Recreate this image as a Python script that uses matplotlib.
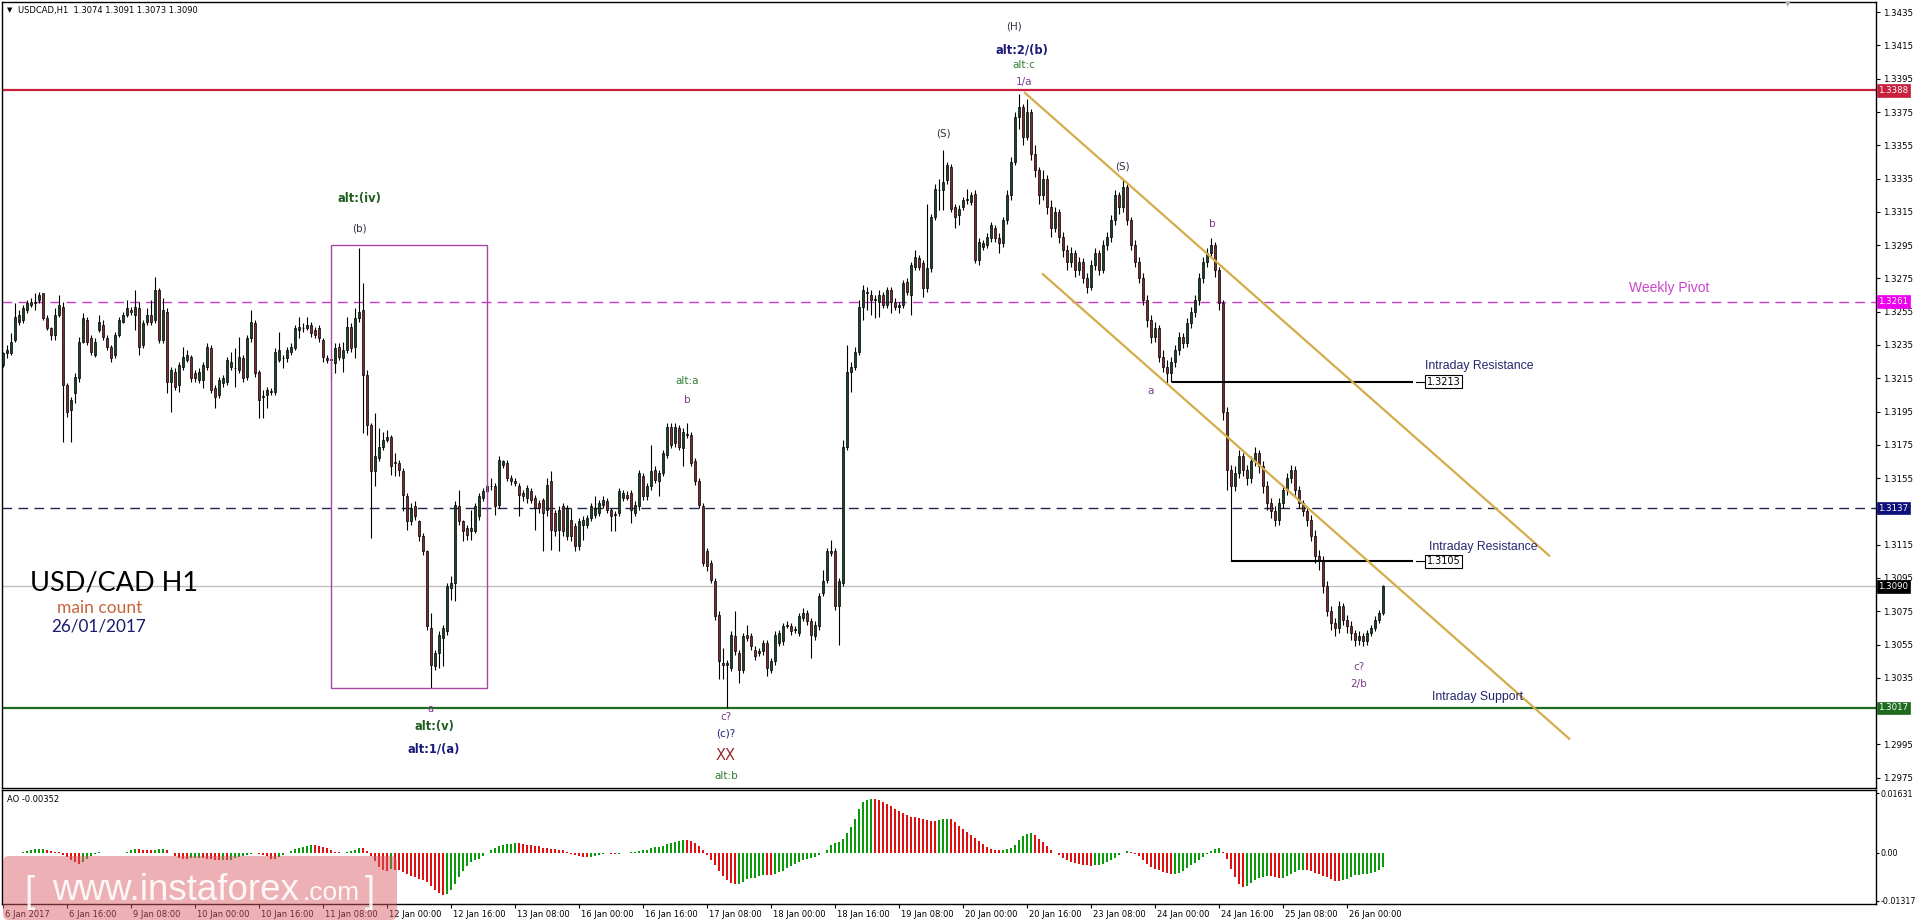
import numpy as np
import pandas as pd
import matplotlib
matplotlib.use("Agg")
import matplotlib.pyplot as plt
import matplotlib.transforms as mtransforms
from matplotlib.patches import Rectangle, FancyBboxPatch

plt.rcParams['font.family'] = 'DejaVu Sans'
plt.rcParams['lines.scale_dashes'] = False

W, H = 1916, 924

# ---- USDCAD H1 candles, pips above 1.0000 (3223 -> 1.3223), one row per ~day ----
opens = [
    3223, 3230, 3230, 3238, 3249, 3250, 3256, 3259, 3261, 3262, 3266, 3251, 3245, 3241, 3253, 3258, 3211, 3196, 3206, 3215, 3237, 3250, 3239, 3229,
    3244, 3247, 3239, 3234, 3229, 3241, 3249, 3253, 3256, 3253, 3257, 3235, 3249, 3253, 3250, 3268, 3238, 3255, 3213, 3219, 3211, 3222, 3226, 3228,
    3218, 3214, 3214, 3222, 3233, 3209, 3205, 3212, 3213, 3222, 3221, 3220, 3227, 3216, 3239, 3248, 3219, 3204, 3205, 3207, 3207, 3226, 3227, 3227,
    3231, 3233, 3244, 3245, 3245, 3247, 3244, 3245, 3238, 3227, 3226, 3224, 3234, 3227, 3232, 3246, 3234, 3251, 3256, 3217, 3187, 3159, 3167, 3174,
    3178, 3180, 3164, 3164, 3159, 3144, 3129, 3138, 3129, 3120, 3111, 3065, 3042, 3050, 3059, 3063, 3089, 3092, 3138, 3129, 3125, 3123, 3123, 3132,
    3143, 3147, 3150, 3150, 3139, 3163, 3164, 3155, 3153, 3150, 3146, 3143, 3147, 3143, 3140, 3142, 3136, 3153, 3134, 3124, 3138, 3120, 3130, 3126,
    3114, 3127, 3127, 3131, 3133, 3134, 3139, 3141, 3136, 3133, 3134, 3143, 3145, 3146, 3134, 3138, 3156, 3144, 3150, 3160, 3153, 3158, 3169, 3186,
    3176, 3185, 3173, 3181, 3181, 3165, 3153, 3138, 3111, 3104, 3093, 3073, 3044, 3043, 3041, 3060, 3050, 3040, 3061, 3060, 3052, 3051, 3051, 3056,
    3040, 3045, 3056, 3057, 3066, 3066, 3064, 3062, 3071, 3074, 3069, 3060, 3066, 3086, 3094, 3111, 3111, 3078, 3092, 3174, 3219, 3222, 3231, 3258,
    3266, 3265, 3262, 3261, 3265, 3259, 3268, 3261, 3258, 3259, 3273, 3265, 3282, 3287, 3284, 3269, 3281, 3312, 3328, 3328, 3334, 3342, 3318, 3313,
    3318, 3322, 3321, 3326, 3286, 3294, 3295, 3299, 3305, 3299, 3296, 3310, 3325, 3345, 3372, 3378, 3360, 3375, 3350, 3340, 3325, 3335, 3318, 3305,
    3315, 3300, 3292, 3285, 3290, 3280, 3285, 3275, 3270, 3283, 3290, 3280, 3295, 3300, 3310, 3325, 3318, 3330, 3310, 3295, 3285, 3275, 3262, 3250,
    3240, 3245, 3228, 3222, 3218, 3225, 3232, 3240, 3236, 3248, 3255, 3262, 3275, 3285, 3290, 3295, 3280, 3260, 3195, 3160, 3150, 3158, 3168, 3160,
    3155, 3165, 3170, 3162, 3150, 3140, 3135, 3130, 3140, 3148, 3155, 3160, 3148, 3140, 3135, 3130, 3120, 3108, 3105, 3090, 3075, 3068, 3065, 3078,
    3070, 3066, 3062, 3058, 3060, 3057, 3062, 3065, 3070, 3074,
]
highs = [
    3231, 3235, 3242, 3260, 3256, 3259, 3262, 3263, 3266, 3267, 3266, 3253, 3246, 3257, 3265, 3261, 3212, 3204, 3218, 3240, 3254, 3252, 3241, 3239,
    3253, 3250, 3241, 3235, 3243, 3252, 3255, 3262, 3258, 3268, 3261, 3250, 3257, 3262, 3276, 3269, 3263, 3257, 3222, 3221, 3225, 3234, 3232, 3229,
    3220, 3221, 3225, 3236, 3235, 3211, 3216, 3217, 3228, 3231, 3233, 3240, 3229, 3241, 3256, 3250, 3220, 3208, 3210, 3209, 3233, 3243, 3229, 3234,
    3236, 3247, 3252, 3248, 3252, 3249, 3246, 3247, 3239, 3229, 3228, 3236, 3236, 3237, 3252, 3248, 3257, 3293, 3272, 3220, 3188, 3194, 3185, 3183,
    3184, 3181, 3170, 3166, 3161, 3146, 3140, 3141, 3130, 3122, 3112, 3074, 3052, 3063, 3067, 3092, 3096, 3141, 3148, 3130, 3127, 3136, 3140, 3146,
    3149, 3152, 3155, 3152, 3168, 3166, 3166, 3157, 3155, 3152, 3148, 3151, 3149, 3145, 3142, 3143, 3155, 3159, 3136, 3138, 3140, 3139, 3137, 3128,
    3131, 3132, 3133, 3140, 3144, 3142, 3144, 3143, 3137, 3135, 3149, 3148, 3147, 3148, 3141, 3160, 3158, 3152, 3175, 3162, 3160, 3172, 3188, 3188,
    3188, 3187, 3185, 3188, 3183, 3167, 3155, 3140, 3113, 3106, 3095, 3075, 3053, 3046, 3063, 3075, 3052, 3062, 3067, 3062, 3054, 3053, 3058, 3058,
    3047, 3063, 3064, 3068, 3069, 3068, 3066, 3074, 3077, 3076, 3071, 3069, 3086, 3100, 3113, 3118, 3113, 3095, 3178, 3235, 3225, 3234, 3262, 3271,
    3270, 3268, 3265, 3268, 3267, 3270, 3270, 3263, 3261, 3274, 3275, 3285, 3292, 3289, 3286, 3320, 3314, 3332, 3335, 3352, 3345, 3344, 3320, 3319,
    3324, 3329, 3327, 3328, 3299, 3298, 3302, 3309, 3307, 3302, 3312, 3328, 3348, 3375, 3386, 3380, 3383, 3377, 3355, 3342, 3340, 3337, 3322, 3318,
    3317, 3303, 3295, 3294, 3292, 3288, 3287, 3278, 3286, 3293, 3292, 3298, 3303, 3313, 3328, 3327, 3335, 3332, 3312, 3298, 3288, 3278, 3265, 3253,
    3249, 3247, 3232, 3226, 3228, 3235, 3243, 3242, 3251, 3258, 3265, 3278, 3288, 3293, 3299, 3297, 3282, 3262, 3198, 3163, 3162, 3172, 3170, 3163,
    3168, 3174, 3172, 3165, 3153, 3143, 3138, 3143, 3151, 3158, 3163, 3162, 3150, 3142, 3138, 3133, 3124, 3112, 3108, 3093, 3078, 3071, 3081, 3080,
    3073, 3069, 3064, 3063, 3062, 3064, 3067, 3072, 3076, 3091,
]
lows = [
    3222, 3227, 3229, 3237, 3247, 3248, 3254, 3258, 3256, 3260, 3250, 3244, 3238, 3238, 3252, 3177, 3192, 3177, 3200, 3213, 3236, 3235, 3229, 3228,
    3243, 3238, 3232, 3225, 3227, 3240, 3248, 3252, 3253, 3244, 3229, 3233, 3247, 3247, 3248, 3236, 3236, 3206, 3195, 3208, 3207, 3220, 3225, 3213,
    3213, 3212, 3209, 3220, 3206, 3197, 3203, 3210, 3211, 3220, 3210, 3218, 3213, 3214, 3237, 3216, 3191, 3191, 3197, 3205, 3205, 3225, 3221, 3225,
    3229, 3232, 3239, 3243, 3244, 3240, 3239, 3237, 3225, 3224, 3214, 3218, 3226, 3219, 3230, 3231, 3227, 3249, 3182, 3181, 3119, 3150, 3165, 3172,
    3177, 3157, 3156, 3156, 3135, 3124, 3127, 3130, 3117, 3109, 3064, 3029, 3040, 3041, 3042, 3061, 3082, 3081, 3127, 3117, 3118, 3118, 3122, 3130,
    3141, 3146, 3148, 3133, 3137, 3161, 3153, 3151, 3150, 3132, 3141, 3140, 3140, 3124, 3134, 3111, 3132, 3112, 3120, 3111, 3120, 3118, 3117, 3111,
    3112, 3118, 3125, 3129, 3131, 3132, 3137, 3134, 3123, 3123, 3132, 3141, 3142, 3128, 3132, 3136, 3142, 3142, 3148, 3152, 3144, 3156, 3167, 3173,
    3174, 3172, 3162, 3179, 3162, 3151, 3137, 3102, 3099, 3092, 3070, 3034, 3034, 3017, 3039, 3049, 3032, 3038, 3057, 3052, 3046, 3048, 3049, 3036,
    3038, 3043, 3054, 3055, 3065, 3061, 3062, 3060, 3069, 3067, 3047, 3058, 3064, 3084, 3092, 3108, 3076, 3055, 3090, 3172, 3207, 3220, 3229, 3250,
    3256, 3253, 3251, 3252, 3257, 3257, 3254, 3256, 3254, 3257, 3265, 3253, 3280, 3280, 3264, 3267, 3279, 3310, 3316, 3316, 3332, 3315, 3305, 3307,
    3316, 3320, 3319, 3284, 3283, 3292, 3293, 3297, 3297, 3290, 3294, 3308, 3322, 3343, 3365, 3355, 3358, 3346, 3336, 3320, 3322, 3314, 3300, 3303,
    3296, 3288, 3280, 3282, 3276, 3277, 3272, 3266, 3268, 3280, 3277, 3278, 3292, 3297, 3307, 3314, 3315, 3307, 3292, 3282, 3272, 3259, 3246, 3236,
    3237, 3225, 3219, 3212, 3213, 3222, 3229, 3233, 3234, 3245, 3252, 3259, 3272, 3282, 3287, 3276, 3256, 3190, 3148, 3105, 3147, 3155, 3156, 3151,
    3152, 3162, 3158, 3146, 3136, 3131, 3126, 3127, 3137, 3145, 3152, 3145, 3137, 3132, 3126, 3117, 3104, 3100, 3086, 3072, 3064, 3060, 3062, 3067,
    3062, 3058, 3054, 3055, 3054, 3055, 3060, 3063, 3068, 3073,
]
closes = [
    3230, 3232, 3237, 3252, 3253, 3257, 3260, 3261, 3260, 3265, 3251, 3245, 3241, 3253, 3259, 3211, 3195, 3202, 3216, 3237, 3251, 3237, 3231, 3237,
    3249, 3240, 3234, 3227, 3241, 3250, 3253, 3257, 3255, 3258, 3234, 3248, 3253, 3249, 3268, 3238, 3256, 3213, 3220, 3210, 3223, 3228, 3229, 3215,
    3215, 3219, 3223, 3234, 3208, 3204, 3214, 3215, 3226, 3225, 3221, 3228, 3215, 3239, 3249, 3218, 3202, 3204, 3208, 3207, 3231, 3232, 3227, 3232,
    3234, 3245, 3246, 3245, 3247, 3242, 3241, 3239, 3228, 3226, 3226, 3233, 3228, 3232, 3246, 3233, 3251, 3255, 3217, 3187, 3159, 3168, 3174, 3178,
    3180, 3162, 3164, 3160, 3145, 3129, 3137, 3132, 3120, 3111, 3066, 3043, 3050, 3061, 3065, 3090, 3092, 3139, 3129, 3123, 3121, 3125, 3138, 3144,
    3147, 3150, 3150, 3138, 3166, 3165, 3155, 3153, 3152, 3145, 3144, 3149, 3142, 3137, 3137, 3134, 3151, 3124, 3123, 3136, 3123, 3137, 3120, 3114,
    3129, 3130, 3131, 3138, 3137, 3140, 3142, 3136, 3132, 3133, 3147, 3146, 3143, 3136, 3139, 3158, 3144, 3150, 3159, 3154, 3158, 3170, 3186, 3175,
    3186, 3174, 3183, 3181, 3164, 3153, 3139, 3104, 3102, 3094, 3072, 3045, 3043, 3044, 3061, 3051, 3040, 3060, 3059, 3054, 3048, 3050, 3056, 3041,
    3045, 3061, 3062, 3066, 3067, 3063, 3064, 3072, 3074, 3069, 3061, 3067, 3084, 3093, 3111, 3110, 3078, 3093, 3174, 3219, 3222, 3231, 3258, 3268,
    3267, 3262, 3262, 3265, 3259, 3268, 3261, 3258, 3259, 3272, 3267, 3283, 3288, 3282, 3269, 3281, 3312, 3329, 3328, 3333, 3343, 3317, 3312, 3317,
    3322, 3323, 3325, 3286, 3297, 3296, 3300, 3307, 3299, 3296, 3310, 3325, 3345, 3372, 3378, 3360, 3375, 3350, 3340, 3325, 3335, 3318, 3305, 3315,
    3300, 3292, 3285, 3290, 3280, 3285, 3275, 3270, 3283, 3290, 3280, 3295, 3300, 3310, 3325, 3318, 3330, 3310, 3295, 3285, 3275, 3262, 3250, 3240,
    3245, 3228, 3222, 3218, 3225, 3232, 3240, 3236, 3248, 3255, 3262, 3275, 3285, 3290, 3295, 3280, 3260, 3195, 3160, 3150, 3158, 3168, 3160, 3155,
    3165, 3170, 3162, 3150, 3140, 3135, 3130, 3140, 3148, 3155, 3160, 3148, 3140, 3135, 3130, 3120, 3108, 3105, 3090, 3075, 3068, 3065, 3078, 3070,
    3066, 3062, 3058, 3060, 3057, 3062, 3065, 3070, 3074, 3090,
]

date_labels = ["6 Jan 2017", "6 Jan 16:00", "9 Jan 08:00", "10 Jan 00:00", "10 Jan 16:00",
               "11 Jan 08:00", "12 Jan 00:00", "12 Jan 16:00", "13 Jan 08:00", "16 Jan 00:00",
               "16 Jan 16:00", "17 Jan 08:00", "18 Jan 00:00", "18 Jan 16:00", "19 Jan 08:00",
               "20 Jan 00:00", "20 Jan 16:00", "23 Jan 08:00", "24 Jan 00:00", "24 Jan 16:00",
               "25 Jan 08:00", "26 Jan 00:00"]
bars_per_label = 16

high_line = 1.3388
pivot_line = 1.3261
mid_line = 1.3137
last_price = 1.3090
support_line = 1.3017
resistances = [1.3213, 1.3105]
resistance_from = [292.5, 307.25]      # bar index where the drawn segment starts
channel_x = [[255.25, 386.75], [259.75, 391.75]]
channel_y = [[1.3387, 1.3108], [1.3278, 1.2998]]
box_x = [82, 121]
box_y = [1.30289, 1.32950]
ao_ticks = [0.01631, 0.0, -0.01317]
ao_tick_labels = ["0.01631", "0.00", "-0.01317"]

# ---- prepare ----
o = 1 + np.array(opens) / 10000
h = 1 + np.array(highs) / 10000
l = 1 + np.array(lows) / 10000
c = 1 + np.array(closes) / 10000
n = len(c)
x = np.arange(n)

# Awesome Oscillator from the candles
med = pd.Series((h + l) / 2)
ao = (med.rolling(5, min_periods=1).mean() - med.rolling(34, min_periods=1).mean()).values
ao_up = np.r_[True, np.diff(ao) > 0]

fig = plt.figure(figsize=(W / 100, H / 100), dpi=100)
fig.patch.set_facecolor('white')


def fbox(x0, y0, x1, y1):
    return [x0 / W, 1 - y1 / H, (x1 - x0) / W, (y1 - y0) / H]


ax = fig.add_axes(fbox(2, 2, 1876, 788))
ax2 = fig.add_axes(fbox(2, 790, 1876, 904))

for a in (ax, ax2):
    a.set_xlim(-0.25, 468.25)
    for s in a.spines.values():
        s.set_color('black')
        s.set_linewidth(1.0)
    a.yaxis.tick_right()

ax.tick_params(axis='y', direction='out', length=3, width=0.8, labelsize=6.2, pad=2, colors='black')
ax2.tick_params(axis='y', direction='out', length=2.5, width=0.8, labelsize=5.7, pad=1, colors='black')

ax.set_ylim(1.29688, 1.34411)
ticks = np.round(np.arange(1.2975, 1.3436, 0.002), 4)
covered = {1.3135, 1.3015}   # hidden behind the level boxes
ax.set_yticks(ticks)
ax.set_yticklabels(["" if t in covered else f"{t:.4f}" for t in ticks])
ax.set_xticks([])

# candles
ax.vlines(x, l, h, color='black', lw=0.8, zorder=2)
bull = c >= o
body_lo = np.minimum(o, c)
body_h = np.maximum(np.abs(c - o), 0.00004)
ax.bar(x[bull], body_h[bull], bottom=body_lo[bull], width=0.62, color='#1d4424',
       edgecolor='black', linewidth=0.5, zorder=3)
ax.bar(x[~bull], body_h[~bull], bottom=body_lo[~bull], width=0.62, color='#7e2a2e',
       edgecolor='black', linewidth=0.5, zorder=3)

# horizontal levels
ax.axhline(high_line, color='#c8203c', lw=1.6, zorder=1)
ax.axhline(pivot_line, color='#c83cc8', lw=1.0, dashes=(7, 4.5), zorder=1)
ax.axhline(mid_line, color='#24244e', lw=1.0, dashes=(7, 4.5), zorder=1)
ax.axhline(last_price, color='#c0c0c0', lw=1.0, zorder=1)
ax.axhline(support_line, color='#1f6b1f', lw=1.6, zorder=1)

# intraday resistance segments + boxes
for lvl, x0 in zip(resistances, resistance_from):
    ax.plot([x0, 352.25], [lvl, lvl], color='black', lw=1.5, zorder=4)
    ax.plot([353.25, 355.5], [lvl, lvl], color='black', lw=0.8, zorder=4)
    ax.text(355.9, lvl, f"{lvl:.4f}", fontsize=7, color='black', va='center', ha='left', zorder=6,
            bbox=dict(boxstyle='square,pad=0.15', fc='white', ec='black', lw=0.8))

# channel
for cx, cy in zip(channel_x, channel_y):
    ax.plot(cx, cy, color='#d4ac48', lw=1.6, zorder=4, solid_capstyle='butt')

# wave box
ax.add_patch(Rectangle((box_x[0], box_y[0]), box_x[1] - box_x[0], box_y[1] - box_y[0],
                       fill=False, ec='#a548a5', lw=1.0, zorder=4))

# right side price boxes
for val, fc in [(high_line, '#c8203c'), (pivot_line, '#ee00ee'), (mid_line, '#10107a'),
                (last_price, '#000000'), (support_line, '#1f6b1f')]:
    ax.text(1.0013, val, f"{val:.4f}", transform=ax.get_yaxis_transform(), fontsize=6.2,
            color='white', va='center', ha='left', zorder=10, clip_on=False,
            bbox=dict(boxstyle='square,pad=0.2', fc=fc, ec=fc, lw=0.5))

# wave labels
purple = '#7d3a8c'
navy = '#1a1a78'
dgreen = '#2f7d32'
labels = [
    ("(H)", 252.75, 1.34261, '#333344', 7.5, 'normal'),
    ("alt:2/(b)", 254.75, 1.34123, navy, 8.3, 'bold'),
    ("alt:c", 255.25, 1.34033, dgreen, 7.5, 'normal'),
    ("1/a", 255.25, 1.33931, purple, 7.5, 'normal'),
    ("(S)", 235.0, 1.33618, '#333344', 7.5, 'normal'),
    ("(S)", 279.75, 1.33420, '#333344', 7.5, 'normal'),
    ("b", 302.25, 1.33077, purple, 7.5, 'normal'),
    ("a", 287.0, 1.32074, purple, 7.5, 'normal'),
    ("alt:(iv)", 89.0, 1.33228, '#1f5e20', 8.3, 'bold'),
    ("(b)", 89.0, 1.33048, '#333344', 7.5, 'normal'),
    ("alt:a", 171.0, 1.32134, dgreen, 7.5, 'normal'),
    ("b", 171.0, 1.32020, purple, 7.5, 'normal'),
    ("a", 106.75, 1.30163, purple, 7.0, 'normal'),
    ("alt:(v)", 107.75, 1.30055, '#1f5e20', 8.3, 'bold'),
    ("alt:1/(a)", 107.75, 1.29923, navy, 8.3, 'bold'),
    ("c?", 180.75, 1.30115, purple, 7.5, 'normal'),
    ("(c)?", 180.75, 1.30013, navy, 7.5, 'normal'),
    ("XX", 180.75, 1.29881, '#a0282d', 10.5, 'normal'),
    ("alt:b", 180.75, 1.29761, dgreen, 7.5, 'normal'),
    ("c?", 339.0, 1.30415, purple, 7.5, 'normal'),
    ("2/b", 339.0, 1.30313, purple, 7.5, 'normal'),
]
for txt, bx, py, col, fs, fw in labels:
    ax.text(bx, py, txt, color=col, fontsize=fs, fontweight=fw, ha='center', va='center', zorder=7)

side = dict(family='Liberation Sans', fontsize=8.8, color='#25256e', ha='left', va='center', zorder=7)
ax.text(355.5, 1.32224, "Intraday Resistance", **side)
ax.text(356.5, 1.31138, "Intraday Resistance", **side)
ax.text(357.25, 1.30235, "Intraday Support", **side)
ax.text(406.5, 1.32693, "Weekly Pivot", family='Liberation Sans', fontsize=10, color='#cc44cc',
        ha='left', va='center', zorder=7)

# chart caption
fig.text(30 / W, 1 - 583 / H, "USD/CAD H1", family='Lato', fontsize=19.5, color='black',
         ha='left', va='center')
fig.text(100 / W, 1 - 608 / H, "main count", family='Lato', fontsize=12.5, color='#c8643c',
         ha='center', va='center')
fig.text(99 / W, 1 - 627 / H, "26/01/2017", family='Lato', fontsize=12.3, color='#1a1a6e',
         ha='center', va='center')

# header
fig.text(7 / W, 1 - 10 / H, "\u25bc", fontsize=5, color='black', ha='left', va='center')
fig.text(18 / W, 1 - 10 / H, "USDCAD,H1  1.3074 1.3091 1.3073 1.3090", fontsize=6,
         color='black', ha='left', va='center')
fig.text(1788 / W, 1 - 4 / H, "\u25bc", fontsize=5, color='#b0b0b0', ha='center', va='center')

# ---- AO panel ----
ax2.set_ylim(-0.0140, 0.0172)
ax2.bar(x[ao_up], ao[ao_up], width=0.55, color='#0a9a0a', lw=0)
ax2.bar(x[~ao_up], ao[~ao_up], width=0.55, color='#e01010', lw=0)
ax2.set_yticks(ao_ticks)
ax2.set_yticklabels(ao_tick_labels)
ax2.set_xticks(np.arange(len(date_labels)) * bars_per_label)
ax2.set_xticklabels(date_labels, fontsize=6)
ax2.tick_params(axis='x', direction='out', length=3, width=0.8, pad=1)
shift = mtransforms.ScaledTranslation(2 / 100, 0, fig.dpi_scale_trans)
for lab in ax2.get_xticklabels():
    lab.set_ha('left')
    lab.set_transform(lab.get_transform() + shift)
ax2.text(5 / 1874, 1 - 10 / 114, "AO -0.00352", transform=ax2.transAxes, fontsize=6,
         color='black', ha='left', va='center')

# watermark
wm = FancyBboxPatch((3, H - 920), 394, 64, boxstyle='round,pad=0,rounding_size=6',
                    transform=mtransforms.IdentityTransform(), fc=(0.86, 0.36, 0.40), ec='none',
                    alpha=0.48, zorder=20)
fig.patches.append(wm)
wm_kw = dict(color='white', alpha=0.9, va='baseline', ha='left', family='Liberation Sans', zorder=21)
fig.text(24 / W, 1 - 902 / H, "[", fontsize=26, **wm_kw)
fig.text(52 / W, 1 - 900 / H, "www.instaforex", fontsize=26.5, **wm_kw)
fig.text(303 / W, 1 - 900 / H, ".com", fontsize=19, **wm_kw)
fig.text(365 / W, 1 - 902 / H, "]", fontsize=26, **wm_kw)

fig.savefig("out.png", dpi=100, facecolor='white')
